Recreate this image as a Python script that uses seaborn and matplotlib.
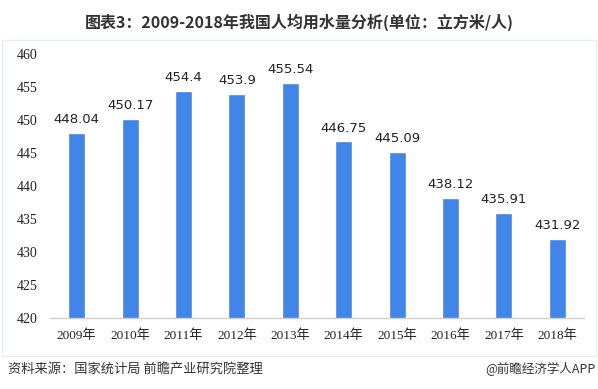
import matplotlib
matplotlib.use('Agg')
import matplotlib.pyplot as plt
import seaborn as sns
import pandas as pd
from matplotlib.patches import Rectangle

years = ["2009年", "2010年", "2011年", "2012年", "2013年",
         "2014年", "2015年", "2016年", "2017年", "2018年"]
water_use = [448.04, 450.17, 454.4, 453.9, 455.54,
             446.75, 445.09, 438.12, 435.91, 431.92]
value_labels = ["448.04", "450.17", "454.4", "453.9", "455.54",
                "446.75", "445.09", "438.12", "435.91", "431.92"]
y_ticks = [420, 425, 430, 435, 440, 445, 450, 455, 460]

title = "图表3：2009-2018年我国人均用水量分析(单位：立方米/人)"
source = "资料来源：国家统计局 前瞻产业研究院整理"
brand = "@前瞻经济学人APP"

sns.set_theme(style="white")
plt.rcParams['font.family'] = ['Noto Sans CJK SC', 'DejaVu Sans']
serif_cjk = ['Liberation Serif', 'Noto Sans CJK SC']

df = pd.DataFrame({"year": years, "value": water_use})

fig = plt.figure(figsize=(5.98, 3.89), dpi=100)
ax = fig.add_axes([50 / 598, 1 - 318 / 389, 534 / 598, 264 / 389])

# light frame around chart area
fig.patches.append(Rectangle((2 / 598, 1 - 356 / 389), 594 / 598, 316 / 389,
                             transform=fig.transFigure, fill=False,
                             edgecolor="#E9EEF4", linewidth=1.0))

sns.barplot(data=df, x="year", y="value", color="#4285E8", width=0.32,
            saturation=1, ax=ax)

ax.set_ylim(420, 460)
ax.set_yticks(y_ticks)
ax.set_yticklabels([str(t) for t in y_ticks], family=serif_cjk, fontsize=10,
                   color="#222222")
ax.set_xticks(range(len(years)))
ax.set_xticklabels(years, family=serif_cjk, fontsize=9.5, color="#222222")
ax.set_xlabel("")
ax.set_ylabel("")
ax.tick_params(axis="x", length=0, pad=8)
ax.tick_params(axis="y", length=0, pad=9)

for s in ["top", "right", "left"]:
    ax.spines[s].set_visible(False)
ax.spines["bottom"].set_color("#D0D0D0")
ax.spines["bottom"].set_linewidth(1.0)

for i, (v, lab) in enumerate(zip(water_use, value_labels)):
    ax.annotate(lab, (i, v), xytext=(0, 5), textcoords="offset points",
                ha="center", va="bottom", fontsize=9.5, color="#222222",
                family=['DejaVu Sans'])

fig.text(0.5, 1 - 22 / 389, title, ha="center", va="center",
         fontsize=11.5, fontweight="bold", color="#333333")
fig.text(8 / 598, 1 - 369 / 389, source, ha="left", va="center",
         fontsize=9.5, color="#333333")
fig.text(596 / 598, 1 - 369 / 389, brand, ha="right", va="center",
         fontsize=9, color="#333333")

fig.savefig("out.png", dpi=100)
